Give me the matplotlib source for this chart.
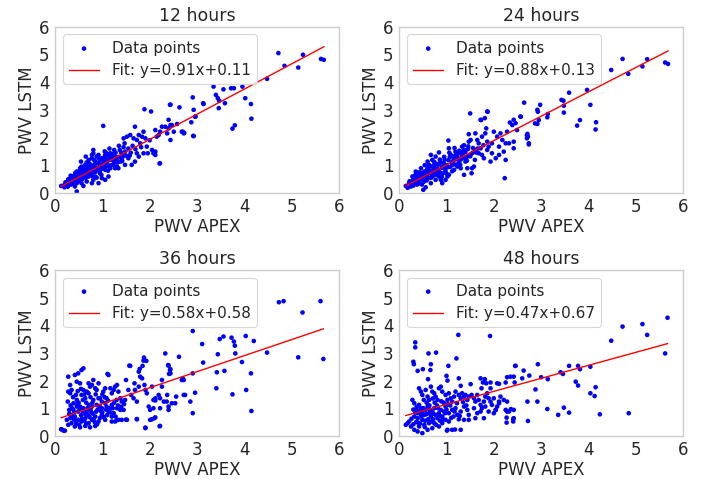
import numpy as np
import matplotlib
matplotlib.use("Agg")
import matplotlib.pyplot as plt

# (PWV APEX, PWV LSTM) pairs
pts_12h = [
    (0.13, 0.25), (0.20, 0.29), (0.25, 0.35), (0.32, 0.41), (0.28, 0.49), (0.39, 0.47), (0.35, 0.59),
    (0.42, 0.65), (0.46, 0.77), (0.49, 0.71), (0.53, 0.89), (0.56, 0.95), (0.60, 0.83), (0.64, 1.01),
    (0.67, 1.10), (0.65, 1.31), (0.71, 1.19), (0.74, 1.01), (0.78, 1.25), (0.81, 1.43), (0.85, 1.13),
    (0.88, 1.31), (0.92, 1.37), (0.95, 1.19), (0.99, 1.25), (1.02, 1.07), (1.06, 1.37), (1.09, 1.43),
    (1.13, 1.31), (1.17, 1.43), (1.20, 1.19), (1.24, 1.25), (1.27, 1.31), (1.31, 0.95), (1.34, 0.89),
    (1.38, 1.13), (1.41, 1.25), (1.45, 1.37), (1.48, 1.49), (1.47, 1.79), (1.45, 1.97), (1.52, 2.03),
    (1.59, 2.09), (1.66, 1.97), (1.69, 2.39), (1.73, 1.91), (1.77, 2.09), (1.80, 1.79), (1.84, 2.03),
    (1.87, 2.21), (1.91, 1.97), (1.94, 1.67), (1.96, 1.43), (2.05, 1.55), (2.08, 1.43), (2.12, 1.37),
    (2.15, 2.03), (2.12, 2.27), (2.19, 2.09), (2.22, 2.21), (2.26, 2.39), (2.33, 2.39), (2.37, 2.15),
    (2.40, 2.33), (2.44, 1.91), (2.47, 2.45), (2.51, 2.21), (2.40, 2.64), (2.44, 2.45), (2.68, 2.21),
    (2.72, 2.15), (2.92, 2.06), (2.58, 2.49), (2.63, 3.09), (2.44, 3.19), (1.89, 3.02), (2.03, 2.94),
    (2.93, 3.00), (3.14, 3.21), (2.97, 2.76), (1.02, 2.42), (0.81, 1.55), (0.78, 1.37), (0.55, 1.13),
    (0.49, 0.59), (0.71, 0.59), (0.85, 0.59), (0.95, 0.71), (1.06, 0.83), (1.17, 0.89), (1.27, 0.89),
    (1.13, 0.59), (0.99, 0.53), (0.81, 0.47), (0.67, 0.41), (0.56, 0.35), (0.46, 0.35), (0.42, 0.23),
    (0.60, 0.25), (0.78, 0.35), (0.92, 0.35), (1.06, 0.47), (0.46, 0.05), (1.73, 1.43), (1.77, 1.31),
    (1.87, 1.43), (1.69, 1.13), (1.55, 1.25), (1.62, 1.01), (1.48, 1.01), (2.22, 1.07), (2.12, 1.49),
    (0.25, 0.30), (0.30, 0.50), (0.35, 0.45), (0.40, 0.55), (0.45, 0.50), (0.50, 0.60), (0.50, 0.45),
    (0.55, 0.70), (0.60, 0.65), (0.62, 0.80), (0.65, 0.55), (0.70, 0.75), (0.72, 0.90), (0.75, 0.65),
    (0.80, 0.85), (0.82, 1.00), (0.85, 0.75), (0.90, 0.90), (0.93, 1.05), (0.97, 0.85), (1.00, 1.00),
    (1.03, 1.15), (1.08, 0.95), (1.10, 1.10), (1.15, 1.20), (1.18, 1.00), (1.22, 1.40), (1.25, 1.10),
    (1.30, 1.20), (1.35, 1.30), (1.40, 1.45), (1.42, 1.15), (1.50, 1.35), (1.55, 1.60), (1.60, 1.45),
    (0.20, 0.20), (0.28, 0.28), (0.38, 0.35), (0.48, 0.40), (0.58, 0.50), (0.68, 0.60), (0.78, 0.70),
    (0.88, 0.55), (0.98, 0.65), (1.12, 0.80), (0.33, 0.62), (0.43, 0.72), (0.53, 0.82), (0.63, 0.92),
    (0.73, 1.05), (0.83, 1.18), (0.93, 1.25), (1.05, 1.50), (1.15, 1.60), (1.25, 1.55), (1.35, 1.70),
    (1.45, 1.65),
    (0.22, 0.38), (0.27, 0.22), (0.31, 0.36), (0.34, 0.30), (0.37, 0.54), (0.41, 0.42), (0.44, 0.62),
    (0.47, 0.56), (0.52, 0.52), (0.54, 0.62), (0.57, 0.78), (0.59, 0.58), (0.62, 0.70), (0.66, 0.86),
    (0.69, 0.68), (0.71, 0.96), (0.74, 0.80), (0.77, 0.92), (0.79, 0.60), (0.84, 0.95), (0.87, 0.82),
    (0.89, 1.08), (0.94, 0.78), (0.96, 0.98), (1.01, 0.90), (1.04, 1.28), (1.07, 1.05), (1.11, 1.22),
    (1.14, 0.95), (1.19, 1.30), (1.23, 1.02), (1.28, 1.45), (1.32, 1.10), (1.37, 1.55), (1.43, 1.30),
    (1.58, 1.35), (1.64, 1.70), (1.70, 1.58), (1.82, 1.65), (2.00, 1.90),
    (4.72, 5.05), (5.24, 4.99), (4.85, 4.59), (5.14, 4.53), (5.62, 4.84), (5.68, 4.81), (4.48, 4.12),
    (3.35, 3.84), (3.56, 3.74), (3.72, 3.78), (3.78, 3.78), (3.96, 3.84), (2.91, 3.45), (3.40, 3.54),
    (3.44, 3.42), (3.47, 3.33), (4.02, 3.42), (4.14, 3.21), (4.15, 2.68), (3.75, 2.32), (3.80, 2.44),
    (3.59, 3.24), (3.46, 3.06), (3.13, 3.24), (2.43, 3.18), (2.96, 2.75), (2.88, 2.55), (2.70, 2.21),
    (2.73, 2.17), (2.93, 2.05), (2.21, 1.06),
]

pts_24h = [
    (0.14, 0.25), (0.21, 0.35), (0.28, 0.41), (0.32, 0.47), (0.35, 0.77), (0.39, 0.53), (0.42, 0.65),
    (0.44, 0.35), (0.51, 0.11), (0.53, 0.47), (0.56, 0.59), (0.60, 0.89), (0.60, 1.13), (0.67, 1.37),
    (0.70, 1.19), (0.74, 1.01), (0.77, 0.83), (0.81, 0.65), (0.84, 1.46), (0.88, 0.47), (0.91, 0.95),
    (0.98, 0.77), (1.02, 0.59), (1.04, 1.89), (1.05, 1.61), (1.09, 1.37), (1.12, 1.01), (1.16, 1.19),
    (1.19, 1.49), (1.23, 1.31), (1.26, 1.07), (1.30, 1.43), (1.33, 1.31), (1.37, 1.55), (1.40, 1.13),
    (1.44, 1.31), (1.47, 1.85), (1.47, 2.12), (1.51, 1.91), (1.53, 0.71), (1.54, 0.89), (1.58, 0.95),
    (1.60, 1.19), (1.61, 2.15), (1.65, 1.91), (1.68, 1.79), (1.72, 1.61), (1.75, 2.03), (1.79, 1.25),
    (1.82, 2.15), (1.84, 2.33), (1.86, 1.85), (1.89, 1.67), (1.93, 1.13), (1.96, 1.43), (2.00, 2.21),
    (2.04, 1.25), (2.07, 2.03), (2.11, 1.37), (2.14, 2.15), (2.18, 1.91), (2.21, 1.49), (2.25, 1.19),
    (2.28, 2.21), (2.32, 1.79), (2.34, 2.54), (2.39, 2.45), (2.42, 1.85), (2.42, 1.61), (2.46, 2.52),
    (2.23, 0.53), (2.56, 2.76), (2.70, 2.09), (2.74, 1.79), (2.92, 2.49), (1.86, 2.94), (1.81, 2.70),
    (1.72, 2.64), (0.77, 1.31), (0.63, 1.01), (0.53, 0.77), (0.46, 0.89), (0.41, 0.73), (0.28, 0.59),
    (0.25, 0.23), (0.56, 0.20), (0.67, 0.35), (0.77, 0.47), (0.70, 0.65), (0.84, 0.59), (0.98, 0.47),
    (0.91, 0.35), (1.05, 0.65), (1.16, 0.83), (1.23, 0.95), (1.30, 0.89), (1.37, 0.65), (1.44, 0.89),
    (1.33, 1.67), (1.51, 1.37), (1.68, 1.43), (1.61, 1.55), (1.75, 1.37), (1.86, 1.55), (1.96, 1.79),
    (2.11, 1.67), (2.25, 1.79), (2.42, 2.64), (2.49, 2.27), (2.70, 1.97),
    (0.24, 0.32), (0.30, 0.48), (0.36, 0.42), (0.40, 0.58), (0.45, 0.52), (0.50, 0.62), (0.52, 0.40),
    (0.55, 0.72), (0.60, 0.68), (0.63, 0.82), (0.66, 0.55), (0.70, 0.78), (0.73, 0.92), (0.76, 0.66),
    (0.80, 0.88), (0.83, 1.02), (0.86, 0.74), (0.90, 0.90), (0.94, 1.08), (0.97, 0.86), (1.00, 1.00),
    (1.04, 1.18), (1.08, 0.94), (1.11, 1.12), (1.15, 1.24), (1.19, 1.02), (1.22, 1.42), (1.27, 1.14),
    (1.31, 1.22), (1.35, 1.34), (1.40, 1.48), (1.43, 1.16), (1.50, 1.32), (1.56, 1.62), (1.62, 1.46),
    (0.18, 0.18), (0.30, 0.26), (0.38, 0.30), (0.48, 0.30), (0.58, 0.45), (0.68, 0.55), (0.78, 0.72),
    (0.90, 0.58), (1.00, 0.70), (1.12, 0.78), (0.34, 0.64), (0.44, 0.74), (0.54, 1.00), (0.64, 0.98),
    (0.74, 1.12), (0.86, 1.20), (0.95, 1.30), (1.06, 1.45), (1.17, 1.62), (1.27, 1.52), (1.37, 1.72),
    (1.46, 1.68),
    (0.22, 0.42), (0.26, 0.28), (0.33, 0.36), (0.37, 0.60), (0.42, 0.48), (0.47, 0.66), (0.49, 0.50),
    (0.58, 0.80), (0.61, 0.52), (0.65, 0.72), (0.68, 0.95), (0.72, 0.62), (0.75, 0.86), (0.79, 1.05),
    (0.82, 0.80), (0.87, 1.10), (0.92, 0.70), (0.96, 1.20), (1.02, 0.92), (1.07, 1.30), (1.13, 1.08),
    (1.18, 1.35), (1.24, 1.20), (1.29, 1.02), (1.34, 1.48), (1.39, 1.25), (1.45, 1.58), (1.55, 1.45),
    (1.66, 1.60), (1.78, 1.72),
    (4.72, 4.84), (5.24, 4.83), (4.48, 4.44), (4.84, 4.30), (5.14, 4.57), (5.62, 4.71), (5.68, 4.66),
    (3.97, 3.72), (3.59, 3.62), (3.43, 3.36), (3.47, 3.33), (3.48, 3.15), (3.48, 2.90), (4.04, 3.18),
    (3.82, 2.63), (3.76, 2.43), (4.16, 2.55), (4.15, 2.29), (2.98, 3.18), (2.92, 3.00), (2.93, 2.93),
    (3.14, 2.85), (3.13, 2.73), (2.87, 2.51), (2.95, 2.63), (2.64, 3.26), (2.57, 2.75), (2.71, 2.13),
    (2.72, 2.03), (2.74, 1.75), (1.50, 2.87), (1.73, 2.63), (1.87, 2.93),
]

pts_36h = [
    (0.13, 0.24), (0.18, 0.19), (0.28, 2.14), (0.32, 1.84), (0.28, 1.60), (0.27, 1.24), (0.32, 1.54),
    (0.35, 1.66), (0.30, 0.94), (0.34, 0.76), (0.39, 1.18), (0.42, 2.20), (0.46, 1.96), (0.44, 1.48),
    (0.49, 2.26), (0.53, 1.90), (0.56, 2.38), (0.60, 2.44), (0.46, 1.30), (0.53, 1.06), (0.56, 1.48),
    (0.60, 1.66), (0.64, 1.36), (0.67, 1.60), (0.71, 1.54), (0.74, 1.78), (0.71, 1.90), (0.78, 1.84),
    (0.81, 2.02), (0.85, 1.72), (0.88, 1.66), (0.92, 1.90), (0.95, 1.36), (0.99, 1.24), (1.02, 1.60),
    (1.06, 1.72), (1.09, 1.36), (1.13, 2.20), (1.17, 1.72), (1.20, 1.54), (1.24, 1.66), (1.27, 1.78),
    (1.31, 1.84), (1.34, 1.60), (1.38, 1.36), (1.41, 1.24), (1.45, 0.94), (1.48, 1.30), (1.50, 2.02),
    (1.55, 1.66), (1.59, 2.53), (1.61, 1.48), (1.66, 1.36), (1.68, 1.90), (1.69, 1.66), (1.73, 1.24),
    (1.77, 1.78), (1.80, 2.14), (1.84, 2.08), (1.85, 2.53), (1.87, 2.72), (1.89, 1.84), (1.91, 1.66),
    (1.94, 1.54), (1.98, 1.06), (2.01, 0.94), (2.05, 1.78), (2.08, 1.30), (2.12, 1.36), (2.19, 1.48),
    (2.26, 2.02), (2.26, 1.78), (2.30, 1.24), (2.37, 1.48), (2.39, 2.56), (2.44, 2.41), (2.44, 2.26),
    (2.40, 1.06), (2.47, 1.18), (2.54, 1.18), (2.68, 2.02), (2.72, 1.48),
    (0.42, 0.70), (0.49, 0.58), (0.56, 0.52), (0.64, 0.64), (0.71, 0.46), (0.78, 0.58), (0.85, 0.70),
    (0.92, 0.52), (0.99, 0.76), (1.06, 0.58), (1.13, 0.88), (1.20, 0.70), (1.27, 0.52), (1.34, 0.58),
    (1.41, 0.58), (1.52, 0.58), (1.73, 0.60), (1.91, 0.28), (2.05, 0.60), (2.12, 0.67), (2.22, 0.36),
    (0.42, 0.34), (0.53, 0.31), (0.64, 0.36), (0.74, 0.31), (0.85, 0.36), (0.35, 0.46), (0.32, 0.64),
    (0.25, 0.58), (0.39, 0.94), (0.46, 1.06), (0.67, 0.88), (0.78, 1.06), (0.88, 1.12), (0.99, 1.00),
    (1.09, 1.06), (1.20, 1.12), (1.31, 1.00), (1.38, 0.94), (1.24, 0.82), (1.06, 1.18), (0.92, 1.36),
    (0.81, 1.30), (0.71, 1.12), (0.60, 1.00), (0.49, 0.88),
    (0.30, 0.80), (0.36, 1.00), (0.40, 0.60), (0.45, 0.45), (0.50, 1.20), (0.55, 0.75), (0.58, 0.90),
    (0.62, 0.55), (0.66, 1.20), (0.70, 0.75), (0.75, 0.95), (0.80, 0.80), (0.84, 0.50), (0.90, 0.95),
    (0.95, 0.65), (1.00, 0.85), (1.05, 1.40), (1.10, 0.75), (1.15, 1.00), (1.25, 1.20), (1.30, 1.30),
    (1.00, 1.50), (0.86, 1.50), (0.75, 1.40), (0.38, 1.40), (0.55, 1.70),
    (0.28, 0.40), (0.33, 1.10), (0.37, 0.70), (0.41, 0.85), (0.44, 0.55), (0.47, 1.15), (0.51, 0.40),
    (0.52, 0.95), (0.57, 0.62), (0.59, 1.30), (0.63, 0.80), (0.66, 0.45), (0.69, 1.00), (0.73, 0.68),
    (0.77, 0.85), (0.79, 1.20), (0.82, 0.62), (0.87, 0.88), (0.89, 0.42), (0.94, 1.08), (0.97, 0.90),
    (1.03, 0.68), (1.08, 0.95), (1.12, 1.28), (1.17, 0.85), (1.22, 1.00), (1.28, 0.70), (1.33, 1.10),
    (1.40, 1.05), (1.46, 1.15), (0.62, 1.50), (0.48, 1.62),
    (4.73, 4.83), (4.83, 4.87), (5.23, 4.46), (5.61, 4.87), (2.91, 3.79), (3.11, 3.32), (3.48, 3.50),
    (3.56, 3.59), (3.73, 3.55), (3.78, 3.41), (3.80, 3.26), (4.03, 3.61), (4.20, 3.43), (4.48, 3.01),
    (5.14, 2.84), (5.67, 2.78), (3.81, 2.98), (3.44, 2.95), (3.95, 2.67), (3.13, 2.65), (2.62, 2.86),
    (2.33, 2.98), (1.88, 2.83), (1.93, 2.71), (1.57, 2.54), (1.79, 2.42), (1.77, 2.32), (2.40, 2.54),
    (2.43, 2.38), (2.41, 2.24), (2.91, 2.26), (3.42, 2.30), (3.58, 2.35), (4.14, 2.26), (2.72, 2.02),
    (2.70, 2.08), (3.41, 1.72), (2.96, 1.56), (3.75, 1.50), (4.04, 1.66), (4.15, 0.90), (2.91, 0.82),
    (2.75, 1.48), (2.56, 1.42), (2.86, 1.24), (2.40, 0.94), (2.36, 1.24), (2.22, 1.36), (2.12, 1.28),
    (2.22, 1.00), (2.08, 1.00), (1.91, 0.30), (2.21, 0.35), (2.10, 0.64), (2.01, 0.58), (1.73, 0.61),
    (1.50, 0.59), (1.31, 0.57), (1.20, 0.52), (1.11, 2.24), (0.14, 0.24), (0.21, 0.19),
]

pts_48h = [
    (1.00, 2.17), (1.02, 2.00), (0.61, 2.05), (1.26, 2.08), (1.30, 1.81), (1.51, 1.87), (1.72, 2.08),
    (1.77, 1.93), (1.81, 2.05), (1.84, 1.90), (1.93, 1.93), (1.74, 1.72), (1.93, 1.72), (2.11, 1.88),
    (2.25, 1.93), (2.07, 1.90), (2.35, 2.14), (2.42, 2.14), (2.46, 2.53), (2.44, 1.93), (2.28, 2.12),
    (2.60, 2.08), (2.63, 2.36), (2.75, 2.18), (3.00, 2.12),
    (0.42, 1.72), (0.46, 1.60), (0.49, 1.48), (0.56, 1.66), (0.60, 1.42), (0.63, 1.30), (0.70, 1.60),
    (0.67, 1.78), (0.74, 1.54), (0.77, 1.42), (0.81, 1.30), (0.84, 1.72), (0.88, 1.78), (0.91, 1.60),
    (0.98, 1.48), (1.02, 1.30), (1.05, 1.54), (1.09, 1.36), (1.12, 1.24), (1.16, 1.42), (1.19, 1.60),
    (1.26, 1.48), (1.30, 1.36), (1.33, 1.54), (1.37, 1.42), (1.40, 1.48), (1.44, 1.30), (1.47, 1.42),
    (1.53, 1.48), (1.58, 1.36), (1.61, 1.24), (1.65, 1.48), (1.68, 1.30), (1.72, 1.12), (1.75, 1.00),
    (1.79, 1.24), (1.82, 1.42), (1.86, 1.54), (1.89, 1.36), (1.93, 1.24), (1.96, 1.12), (2.00, 1.36),
    (2.04, 0.94), (2.07, 1.06), (2.11, 1.24), (2.14, 1.42), (2.21, 1.30), (2.28, 1.24), (2.32, 0.88),
    (2.42, 0.94), (2.42, 0.64), (2.28, 0.88),
    (0.28, 1.30), (0.32, 1.18), (0.35, 0.94), (0.39, 0.82), (0.42, 1.12), (0.46, 1.00), (0.49, 0.88),
    (0.53, 0.76), (0.56, 0.94), (0.60, 1.06), (0.63, 0.82), (0.67, 0.70), (0.70, 0.88), (0.74, 1.00),
    (0.77, 0.76), (0.81, 0.64), (0.84, 0.82), (0.88, 0.94), (0.91, 0.70), (0.95, 0.88), (0.98, 1.06),
    (1.05, 0.82), (1.12, 0.94), (1.19, 1.00), (1.23, 0.76), (1.30, 0.88), (1.37, 1.06), (1.44, 0.94),
    (1.47, 0.76), (1.58, 1.00), (1.65, 0.82), (1.72, 0.88), (1.79, 0.64), (1.82, 1.06), (1.89, 0.88),
    (2.00, 0.82), (1.05, 0.52), (1.26, 0.60), (1.37, 0.58), (1.47, 0.58), (1.61, 0.64), (1.12, 0.22),
    (1.30, 0.22), (1.02, 0.22), (0.84, 0.34), (0.70, 0.28), (0.63, 0.46), (0.53, 0.40), (0.42, 0.34),
    (0.32, 0.22), (0.25, 0.34), (0.18, 0.46), (0.14, 0.40), (0.39, 0.16), (0.49, 0.10), (0.60, 0.22),
    (0.74, 0.46), (0.91, 0.46), (0.98, 0.58), (0.49, 0.58), (0.39, 0.64), (0.32, 0.70), (0.21, 0.52),
    (0.36, 0.50), (0.45, 0.80), (0.55, 0.55), (0.58, 1.20), (0.65, 0.95), (0.72, 0.60), (0.80, 1.10),
    (0.86, 0.55), (0.94, 1.20), (1.00, 0.95), (1.08, 1.10), (1.15, 0.70), (0.30, 0.95), (0.44, 0.45),
    (0.26, 0.62), (0.30, 0.42), (0.34, 0.85), (0.37, 1.05), (0.40, 0.48), (0.43, 0.92), (0.47, 0.70),
    (0.51, 1.00), (0.54, 0.32), (0.57, 0.78), (0.61, 0.60), (0.64, 1.10), (0.68, 0.52), (0.72, 0.80),
    (0.75, 1.20), (0.78, 0.40), (0.82, 1.00), (0.86, 0.72), (0.89, 1.25), (0.93, 0.60), (0.97, 0.82),
    (1.03, 1.15), (1.10, 0.65), (1.17, 0.88), (1.22, 1.18), (1.28, 0.72), (1.35, 1.22), (1.42, 1.10),
    (0.52, 1.30), (0.71, 1.35),
    (5.67, 4.27), (5.14, 4.04), (4.72, 3.95), (5.24, 3.65), (4.48, 3.44), (5.62, 2.98), (1.25, 3.65),
    (1.92, 3.61), (0.34, 3.38), (0.34, 3.20), (0.62, 2.98), (0.78, 3.01), (1.21, 2.80), (0.30, 2.68),
    (0.31, 2.59), (0.39, 2.35), (0.50, 2.41), (0.67, 2.59), (0.66, 2.38), (1.04, 2.53), (2.45, 2.53),
    (2.93, 2.59), (3.59, 2.53), (3.78, 2.53), (3.82, 2.41), (4.04, 2.50), (3.41, 2.30), (3.46, 2.24),
    (3.14, 2.05), (3.73, 1.96), (3.78, 1.82), (4.15, 1.76), (4.04, 1.54), (4.13, 1.44), (2.88, 1.68),
    (2.71, 1.24), (2.92, 1.24), (3.13, 0.97), (3.36, 0.76), (3.48, 1.02), (3.59, 0.84), (4.24, 0.78),
    (4.85, 0.82), (2.72, 0.54), (2.41, 0.61), (2.41, 0.52), (2.27, 0.66), (2.27, 0.48), (2.36, 0.97),
    (2.25, 0.94), (2.11, 1.18), (2.04, 0.94), (1.01, 0.19), (1.18, 0.23),
]

titles = ["12 hours", "24 hours", "36 hours", "48 hours"]
slopes = [0.91, 0.88, 0.58, 0.47]
intercepts = [0.11, 0.13, 0.58, 0.67]
all_pts = [pts_12h, pts_24h, pts_36h, pts_48h]
ticks = [0, 1, 2, 3, 4, 5, 6]

text_color = "#262626"
plt.rcParams.update({
    "font.family": ["DejaVu Sans"],
    "text.color": text_color,
    "axes.labelcolor": text_color,
    "xtick.color": text_color,
    "ytick.color": text_color,
    "axes.edgecolor": "#cccccc",
    "axes.linewidth": 1.0,
})

fig, axes = plt.subplots(2, 2, figsize=(7.05, 4.79), dpi=100)
fig.subplots_adjust(left=0.078, right=0.969, bottom=0.09, top=0.944, wspace=0.212, hspace=0.464)

for ax, pts, title, m, b in zip(axes.flat, all_pts, titles, slopes, intercepts):
    arr = np.array(pts)
    xs, ys = arr[:, 0], arr[:, 1]
    ax.scatter(xs, ys, s=11, color="blue", edgecolors="none", label="Data points", zorder=2)
    xl = np.array([xs.min(), xs.max()])
    ax.plot(xl, m * xl + b, color="red", lw=1.0, label=f"Fit: y={m:.2f}x+{b:.2f}", zorder=3)
    ax.set_xlim(0, 6)
    ax.set_ylim(0, 6)
    ax.set_xticks(ticks)
    ax.set_yticks(ticks)
    ax.tick_params(length=0, labelsize=12, pad=4)
    ax.set_xlabel("PWV APEX", fontsize=12, labelpad=1)
    ax.set_ylabel("PWV LSTM", fontsize=12, labelpad=2)
    ax.set_title(title, fontsize=12.5, pad=4)
    leg = ax.legend(loc="upper left", fontsize=11, scatterpoints=1, frameon=True,
                    edgecolor="#cccccc", fancybox=True, handlelength=2.0)
    leg.get_frame().set_linewidth(0.8)

fig.savefig("out.png", dpi=100)
